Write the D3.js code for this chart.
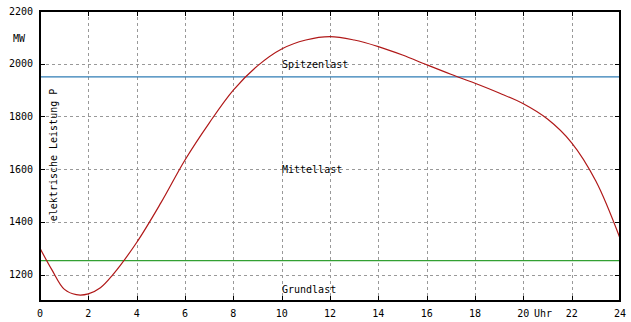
<!DOCTYPE html>
<html>
  <head>
    <meta charset="utf-8">
    <style>
      body { margin: 0; background: #fff; }
      svg { display: block; }
      text { font: 10px "DejaVu Sans Mono", monospace; fill: #000; }
      .grid line { stroke: #999; stroke-width: 1px; stroke-dasharray: 3,3; shape-rendering: crispEdges; }
      .frame { fill: none; stroke: #000; stroke-width: 2px; shape-rendering: crispEdges; }
      .tick { stroke: #000; stroke-width: 1.5px; shape-rendering: crispEdges; }
      .load { fill: none; stroke: #b01818; stroke-width: 1.2px; }
    </style>
  </head>
  <body>
    <svg></svg>
    <script src="https://cdnjs.cloudflare.com/ajax/libs/d3/7.8.5/d3.min.js"></script>
    <script>
      // load curve over one day (hour, MW)
      var hours = [0, 0.5, 1, 1.5, 2, 2.5, 3, 4, 5, 6, 7, 8, 9, 10, 11, 12, 13, 14, 15, 16, 17, 18, 19, 20, 21, 22, 23, 24];
      var power = [1300, 1217, 1145, 1124, 1127, 1150, 1198, 1322, 1472, 1635, 1775, 1900, 1992, 2056, 2090, 2103, 2090, 2065, 2033, 1996, 1960, 1926, 1889, 1848, 1790, 1700, 1555, 1338];
      var xTicks = [0, 2, 4, 6, 8, 10, 12, 14, 16, 18, 20, 22, 24];
      var yTicks = [1200, 1400, 1600, 1800, 2000, 2200];
      var baseLoad = 1253, peakLoad = 1950;
      var bands = [
        {label: 'Spitzenlast', value: 1996},
        {label: 'Mittellast', value: 1600},
        {label: 'Grundlast', value: 1145}
      ];

      var W = 631, H = 322,
          pLeft = 40, pRight = 620, pTop = 11, pBottom = 301;

      var svg = d3.select('svg').attr('width', W).attr('height', H);

      var x = d3.scaleLinear().domain([0, 24]).range([pLeft, pRight]);
      var y = d3.scaleLinear().domain([1100, 2200]).range([pBottom, pTop]);

      // dashed grid
      var grid = svg.append('g').attr('class', 'grid');
      grid.selectAll('.gx').data(xTicks.slice(1, -1)).enter().append('line')
          .attr('x1', d => Math.round(x(d)) + 0.5).attr('x2', d => Math.round(x(d)) + 0.5)
          .attr('y1', pTop).attr('y2', pBottom);
      grid.selectAll('.gy').data(yTicks.slice(0, -1)).enter().append('line')
          .attr('y1', d => Math.round(y(d)) + 0.5).attr('y2', d => Math.round(y(d)) + 0.5)
          .attr('x1', pLeft).attr('x2', pRight);

      // base and peak lines
      svg.append('line').attr('x1', pLeft).attr('x2', pRight)
          .attr('y1', y(peakLoad)).attr('y2', y(peakLoad))
          .style('stroke', '#2f7db5').style('stroke-width', 1.3);
      svg.append('line').attr('x1', pLeft).attr('x2', pRight)
          .attr('y1', y(baseLoad)).attr('y2', y(baseLoad))
          .style('stroke', '#33a033').style('stroke-width', 1.3);

      // load curve
      var line = d3.line().x((d, i) => x(hours[i])).y(d => y(d)).curve(d3.curveCatmullRom.alpha(0.5));
      svg.append('path').datum(power).attr('class', 'load').attr('d', line);

      // frame and inner ticks on all sides
      svg.append('rect').attr('class', 'frame')
          .attr('x', pLeft).attr('y', pTop).attr('width', pRight - pLeft).attr('height', pBottom - pTop);
      var tl = 5;
      xTicks.slice(1, -1).forEach(function(d) {
        var px = Math.round(x(d)) + 0.5;
        svg.append('line').attr('class', 'tick').attr('x1', px).attr('x2', px).attr('y1', pBottom).attr('y2', pBottom - tl);
        svg.append('line').attr('class', 'tick').attr('x1', px).attr('x2', px).attr('y1', pTop).attr('y2', pTop + tl);
      });
      yTicks.slice(0, -1).forEach(function(d) {
        var py = Math.round(y(d)) + 0.5;
        svg.append('line').attr('class', 'tick').attr('y1', py).attr('y2', py).attr('x1', pLeft).attr('x2', pLeft + tl);
        svg.append('line').attr('class', 'tick').attr('y1', py).attr('y2', py).attr('x1', pRight).attr('x2', pRight - tl);
      });

      // tick labels
      svg.selectAll('.xl').data(xTicks).enter().append('text')
          .attr('x', d => x(d)).attr('y', 313).attr('dy', '0.35em')
          .attr('text-anchor', 'middle').text(d => d);
      svg.selectAll('.yl').data(yTicks).enter().append('text')
          .attr('x', 33).attr('y', d => y(d)).attr('dy', '0.35em')
          .attr('text-anchor', 'end').text(d => d);

      svg.append('text').attr('x', 13).attr('y', 38).attr('dy', '0.35em').text('MW');
      svg.append('text').attr('x', 534).attr('y', 313).attr('dy', '0.35em').text('Uhr');
      svg.append('text').attr('transform', 'translate(53,155)rotate(-90)')
          .attr('text-anchor', 'middle').attr('dy', '0.35em').text('elektrische Leistung P');

      svg.selectAll('.band').data(bands).enter().append('text')
          .attr('x', 282).attr('y', d => y(d.value)).attr('dy', '0.35em').text(d => d.label);
    </script>
  </body>
</html>
